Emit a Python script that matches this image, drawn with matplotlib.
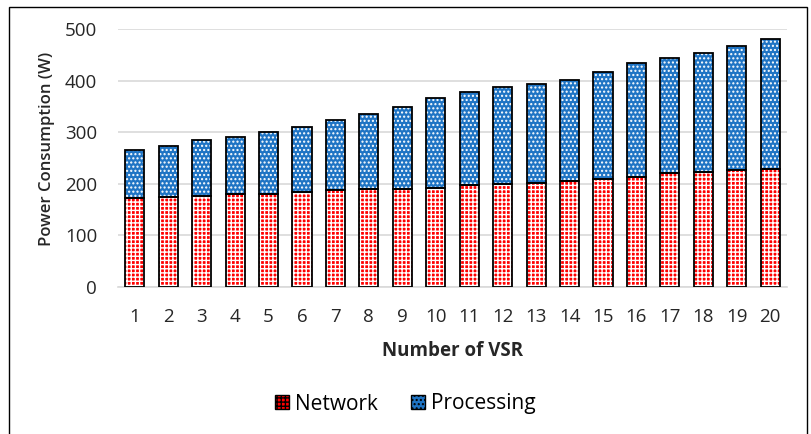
import numpy as np
import matplotlib
matplotlib.use("Agg")
import matplotlib.pyplot as plt
from matplotlib.patches import Rectangle, Patch

# 数据
vsr = [str(i) for i in range(1, 21)]
total = [265, 273, 284, 291, 300, 310, 324, 336, 349, 366,
         379, 387, 394, 402, 418, 434, 445, 454, 467, 481]
network = [172, 174, 177, 180, 181, 183, 187, 189, 190, 192,
           197, 199, 202, 206, 210, 214, 220, 222, 226, 228]
processing = [t - n for t, n in zip(total, network)]

plt.rcParams["font.family"] = ["Open Sans", "DejaVu Sans"]
plt.rcParams["hatch.linewidth"] = 1.0

fig = plt.figure(figsize=(8.11, 4.34), dpi=100)
ax = fig.add_axes([118 / 811, 1 - 286.7 / 434, (787 - 118) / 811, (286.7 - 29.3) / 434])

x = np.arange(len(vsr))
w = 0.57
red = "#ff0000"
blue = "#1f74c4"

# 填充（白色图案）
ax.bar(x, network, w, color=red, edgecolor="white", hatch="++++", linewidth=0, zorder=2)
ax.bar(x, processing, w, bottom=network, color=blue, edgecolor="white", hatch="....", linewidth=0, zorder=2)
# 黑色边框
ax.bar(x, network, w, fill=False, edgecolor="black", linewidth=1.3, zorder=3)
ax.bar(x, processing, w, bottom=network, fill=False, edgecolor="black", linewidth=1.3, zorder=3)

ax.set_ylim(0, 500)
ax.set_xlim(-0.5, len(vsr) - 0.5)
ax.set_yticks(range(0, 501, 100))
ax.set_xticks(x)
ax.set_xticklabels(vsr)
ax.yaxis.grid(True, color="#d9d9d9", linewidth=1.2, zorder=0)
ax.set_axisbelow(True)
for s in ["top", "right", "left"]:
    ax.spines[s].set_visible(False)
ax.spines["bottom"].set_color("#d9d9d9")
ax.spines["bottom"].set_linewidth(1.2)
ax.tick_params(axis="both", length=0, labelsize=13.5, colors="#262626")
ax.tick_params(axis="y", pad=15)
ax.tick_params(axis="x", pad=15)

ax.set_ylabel("Power Consumption (W)", fontsize=12, fontweight="semibold", color="#262626")
ax.yaxis.set_label_coords(-0.094, 0.535)
ax.set_xlabel("Number of VSR", fontsize=13.5, fontweight="bold", color="#262626", labelpad=11)

handles = [Patch(facecolor=red, edgecolor="black", hatch="++++", label="Network"),
           Patch(facecolor=blue, edgecolor="black", hatch="....", label="Processing")]
fig.legend(handles=handles, loc="center", bbox_to_anchor=(0.5, 1 - 404 / 434), ncol=2,
           frameon=False, fontsize=15, handlelength=0.65, handleheight=0.65,
           handletextpad=0.3, columnspacing=1.6)

# 外框
fig.patches.append(Rectangle((9 / 811, -0.05), (807 - 9) / 811, 1 - 7 / 434 + 0.05,
                             transform=fig.transFigure, fill=False,
                             edgecolor="black", linewidth=1))

fig.savefig("out.png", dpi=100)
